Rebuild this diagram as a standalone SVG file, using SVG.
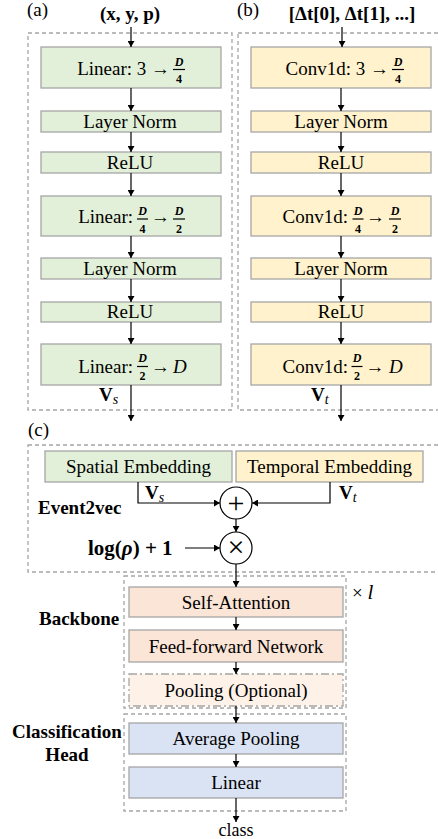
<svg xmlns="http://www.w3.org/2000/svg" width="438" height="839" viewBox="0 0 438 839">
<defs>
<marker id="ah" markerWidth="6" markerHeight="7" refX="6" refY="3.5" orient="auto" markerUnits="userSpaceOnUse">
<path d="M0,0 L6,3.5 L0,7 Z" fill="#000"/>
</marker>
<style>
.t{font-family:"Liberation Serif","Times New Roman",serif;font-size:19px;fill:#000}
.m{text-anchor:middle}
.e{text-anchor:end}
.b{font-weight:bold}
.i{font-style:italic}
.f{font-family:"Liberation Serif",serif;font-size:12px;font-style:italic;text-anchor:middle;font-weight:bold}
.fn{font-family:"Liberation Serif",serif;font-size:12px;text-anchor:middle;font-weight:bold}
.bar{stroke:#000;stroke-width:1.2}
.g{fill:#e2f0d9;stroke:#a5a5a5;stroke-width:1.3}
.y{fill:#fff2cc;stroke:#a5a5a5;stroke-width:1.3}
.s{fill:#fbe5d6;stroke:#a5a5a5;stroke-width:1.3}
.p{fill:#fdf1e8;stroke:#a5a5a5;stroke-width:1.3;stroke-dasharray:8 3 2 3}
.bl{fill:#dae3f3;stroke:#a5a5a5;stroke-width:1.3}
.d{fill:none;stroke:#a5a5a5;stroke-width:1.3;stroke-dasharray:4 3}
.c{fill:#fff;stroke:#000;stroke-width:1.2}
.ar{fill:none;stroke:#000;stroke-width:1.2;marker-end:url(#ah)}
.sub{font-style:italic;font-weight:normal;font-size:14px}
</style>
</defs>

<!-- containers -->
<rect class="d" x="28" y="33" width="204" height="377"/>
<rect class="d" x="238" y="33" width="210" height="377"/>
<rect class="d" x="28" y="445" width="420" height="127"/>
<rect class="d" x="124" y="576" width="222" height="132"/>
<rect class="d" x="124" y="714" width="222" height="97"/>

<text class="t" x="27" y="16">(a)</text>
<text class="t b m" x="130" y="20">(x, y, p)</text>
<text class="t" x="237" y="16">(b)</text>
<text class="t b m" x="352" y="20">[Δt[0], Δt[1], ...]</text>
<text class="t" x="28" y="436">(c)</text>

<!-- column a -->
<g id="a1"><rect class="g" x="41" y="47" width="180" height="41"/>
<text class="t e" x="170" y="75">Linear: 3 →</text>
<text class="f" x="179" y="66">D</text><line class="bar" x1="173" y1="69.5" x2="185" y2="69.5"/><text class="fn" x="179" y="83">4</text></g>
<g id="a2"><rect class="g" x="41" y="111" width="180" height="21"/><text class="t m" x="130" y="128">Layer Norm</text></g>
<g id="a3"><rect class="g" x="41" y="152" width="180" height="21"/><text class="t m" x="130" y="169">ReLU</text></g>
<g id="a4"><rect class="g" x="41" y="196" width="180" height="40"/>
<text class="t e" x="133" y="223">Linear:</text>
<text class="f" x="142.5" y="215">D</text><line class="bar" x1="137" y1="219" x2="148" y2="219"/><text class="fn" x="142.5" y="233">4</text>
<text class="t m" x="160.5" y="223">→</text>
<text class="f" x="179" y="215">D</text><line class="bar" x1="173" y1="219" x2="185" y2="219"/><text class="fn" x="179" y="233">2</text></g>
<g id="a5"><rect class="g" x="41" y="258" width="180" height="21"/><text class="t m" x="130" y="275">Layer Norm</text></g>
<g id="a6"><rect class="g" x="41" y="302" width="180" height="20"/><text class="t m" x="130" y="318">ReLU</text></g>
<g id="a7"><rect class="g" x="41" y="344" width="180" height="41"/>
<text class="t e" x="133" y="373">Linear:</text>
<text class="f" x="142.5" y="362">D</text><line class="bar" x1="137" y1="366.5" x2="148" y2="366.5"/><text class="fn" x="142.5" y="380">2</text>
<text class="t m" x="160.5" y="373">→</text>
<text class="t i" x="173" y="373">D</text></g>
<text class="t b" x="99" y="401">V<tspan class="sub" dy="3">s</tspan></text>

<!-- column b -->
<g id="b1"><rect class="y" x="251" y="47" width="180" height="41"/>
<text class="t e" x="389" y="75">Conv1d: 3 →</text>
<text class="f" x="398" y="66">D</text><line class="bar" x1="392" y1="69.5" x2="404" y2="69.5"/><text class="fn" x="398" y="83">4</text></g>
<g id="b2"><rect class="y" x="251" y="111" width="180" height="21"/><text class="t m" x="341" y="128">Layer Norm</text></g>
<g id="b3"><rect class="y" x="251" y="152" width="180" height="21"/><text class="t m" x="341" y="169">ReLU</text></g>
<g id="b4"><rect class="y" x="251" y="196" width="180" height="40"/>
<text class="t e" x="348" y="223">Conv1d:</text>
<text class="f" x="358" y="215">D</text><line class="bar" x1="352.5" y1="219" x2="363.5" y2="219"/><text class="fn" x="358" y="233">4</text>
<text class="t m" x="375.5" y="223">→</text>
<text class="f" x="395" y="215">D</text><line class="bar" x1="389" y1="219" x2="401" y2="219"/><text class="fn" x="395" y="233">2</text></g>
<g id="b5"><rect class="y" x="251" y="258" width="180" height="21"/><text class="t m" x="341" y="275">Layer Norm</text></g>
<g id="b6"><rect class="y" x="251" y="302" width="180" height="20"/><text class="t m" x="341" y="318">ReLU</text></g>
<g id="b7"><rect class="y" x="251" y="344" width="180" height="41"/>
<text class="t e" x="348" y="373">Conv1d:</text>
<text class="f" x="357" y="362">D</text><line class="bar" x1="351.5" y1="366.5" x2="362.5" y2="366.5"/><text class="fn" x="357" y="380">2</text>
<text class="t m" x="375" y="373">→</text>
<text class="t i" x="389" y="373">D</text></g>
<text class="t b" x="311" y="401">V<tspan class="sub" dy="3">t</tspan></text>

<!-- section c -->
<g id="spatial"><rect class="g" x="45" y="451" width="187" height="31"/><text class="t m" x="138.5" y="473">Spatial Embedding</text></g>
<g id="temporal"><rect class="y" x="236" y="451" width="187" height="31"/><text class="t m" x="329.5" y="473">Temporal Embedding</text></g>
<text class="t b" x="145" y="499">V<tspan class="sub" dy="3">s</tspan></text>
<text class="t b" x="339" y="499">V<tspan class="sub" dy="3">t</tspan></text>
<text class="t b" x="38" y="514">Event2vec</text>
<g id="plus"><circle class="c" cx="236" cy="503" r="16"/><text class="t m" x="236" y="513" style="font-size:30px">+</text></g>
<g id="times"><circle class="c" cx="236" cy="548" r="16"/><text class="t m" x="236" y="557" style="font-size:30px">×</text></g>
<text class="t b" x="88" y="555" style="font-size:21px">log(<tspan class="i">ρ</tspan>) + 1</text>

<!-- backbone -->
<text class="t b" x="39" y="625">Backbone</text>
<text class="t" x="352" y="599">× <tspan class="i" style="font-size:21px">l</tspan></text>
<g id="sa"><rect class="s" x="129" y="587" width="214" height="30"/><text class="t m" x="236" y="609">Self-Attention</text></g>
<g id="ffn"><rect class="s" x="129" y="630" width="214" height="32"/><text class="t m" x="236" y="653">Feed-forward Network</text></g>
<g id="pool"><rect class="p" x="129" y="674" width="214" height="32"/><text class="t m" x="236" y="697">Pooling (Optional)</text></g>
<text class="t b m" x="67" y="738">Classification</text>
<text class="t b m" x="67" y="761">Head</text>
<g id="avg"><rect class="bl" x="129" y="723" width="214" height="31"/><text class="t m" x="236" y="745">Average Pooling</text></g>
<g id="lin"><rect class="bl" x="129" y="767" width="214" height="31"/><text class="t m" x="236" y="789">Linear</text></g>
<text class="t m" x="236" y="836" style="font-size:18px">class</text>

<!-- connectors -->
<g id="connectors">
<line class="ar" x1="131" y1="27" x2="131" y2="47"/>
<line class="ar" x1="131" y1="88" x2="131" y2="111"/>
<line class="ar" x1="131" y1="132" x2="131" y2="152"/>
<line class="ar" x1="131" y1="173" x2="131" y2="196"/>
<line class="ar" x1="131" y1="236" x2="131" y2="258"/>
<line class="ar" x1="131" y1="279" x2="131" y2="302"/>
<line class="ar" x1="131" y1="322" x2="131" y2="344"/>
<line class="ar" x1="131" y1="385" x2="131" y2="421"/>
<line class="ar" x1="342" y1="27" x2="342" y2="47"/>
<line class="ar" x1="341" y1="88" x2="341" y2="111"/>
<line class="ar" x1="341" y1="132" x2="341" y2="152"/>
<line class="ar" x1="341" y1="173" x2="341" y2="196"/>
<line class="ar" x1="341" y1="236" x2="341" y2="258"/>
<line class="ar" x1="341" y1="279" x2="341" y2="302"/>
<line class="ar" x1="341" y1="322" x2="341" y2="344"/>
<line class="ar" x1="341" y1="385" x2="341" y2="421"/>
<polyline class="ar" points="138,482 138,503 220,503"/>
<polyline class="ar" points="330,482 330,503 252,503"/>
<line class="ar" x1="236" y1="519" x2="236" y2="532"/>
<line class="ar" x1="185" y1="548" x2="220" y2="548"/>
<line class="ar" x1="236" y1="564" x2="236" y2="587"/>
<line class="ar" x1="236" y1="617" x2="236" y2="630"/>
<line class="ar" x1="236" y1="662" x2="236" y2="674"/>
<line class="ar" x1="236" y1="706" x2="236" y2="723"/>
<line class="ar" x1="236" y1="754" x2="236" y2="767"/>
<line class="ar" x1="236" y1="798" x2="236" y2="822"/>
</g>
</svg>
